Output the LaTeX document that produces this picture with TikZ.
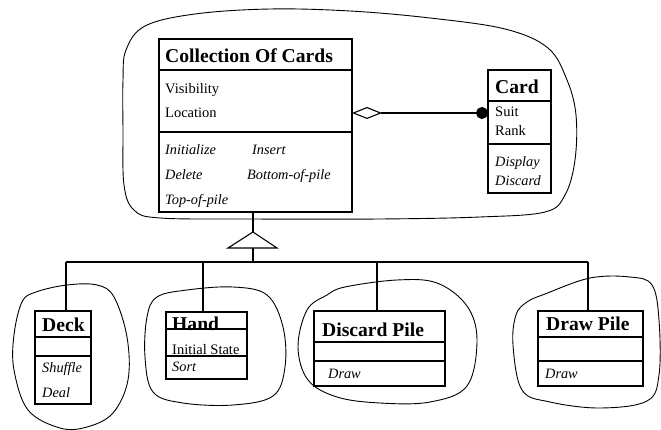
\documentclass[tikz,border=0pt]{standalone}
\usepackage{fontspec}
\setmainfont{Liberation Serif}
\usetikzlibrary{arrows.meta,calc}

\newcommand\classdiv[2]{\draw[classline] ($(#1.north west)+(0,#2)$) -- ($(#1.north east)+(0,#2)$);}

\begin{document}
\begin{tikzpicture}[x=1pt,y=-1pt,
  classbox/.style={draw, line width=1.2pt, inner sep=0pt, outer sep=0pt, anchor=north west},
  classline/.style={line width=1.2pt},
  link/.style={line width=1.1pt},
  blob/.style={line width=0.9pt},
  ctitle/.style={inner sep=0pt, anchor=base west, font=\fontsize{19.6}{19.6}\selectfont\bfseries},
  cattr/.style={inner sep=0pt, anchor=base west, font=\fontsize{14.5}{14.5}\selectfont},
  cop/.style={inner sep=0pt, anchor=base west, font=\fontsize{14.3}{14.3}\selectfont\itshape}]
\useasboundingbox (0,0) rectangle (661,430);

% ---------- class boxes ----------
\node[classbox, minimum width=193, minimum height=173] (coll) at (159,39) {};
\classdiv{coll}{31}
\classdiv{coll}{93}
\node[ctitle] (collT) at (165,63) {Collection Of Cards};
\node[cattr] (collA1) at (165,94) {Visibility};
\node[cattr] (collA2) at (165,118) {Location};
\node[cop] (collO1) at (165,155) {Initialize};
\node[cop] (collO2) at (252,155) {Insert};
\node[cop] (collO3) at (165,180) {Delete};
\node[cop] (collO4) at (247,180) {Bottom-of-pile};
\node[cop] (collO5) at (165,205) {Top-of-pile};

\node[classbox, minimum width=63, minimum height=123] (card) at (488,70) {};
\classdiv{card}{31}
\classdiv{card}{74}
\node[ctitle] (cardT) at (495,94) {Card};
\node[cattr] (cardA1) at (495,117) {Suit};
\node[cattr] (cardA2) at (495,136) {Rank};
\node[cop] (cardO1) at (495,167) {Display};
\node[cop] (cardO2) at (495,186) {Discard};

\node[classbox, minimum width=56, minimum height=93] (deck) at (35,311) {};
\classdiv{deck}{26}
\classdiv{deck}{45}
\node[ctitle] (deckT) at (42,331) {Deck};
\node[cop] (deckO1) at (42,372) {Shuffle};
\node[cop] (deckO2) at (42,397) {Deal};

\node[classbox, minimum width=81, minimum height=67] (hand) at (166,312) {};
\classdiv{hand}{17}
\classdiv{hand}{44}
\node[ctitle] (handT) at (172,330) {Hand};
\node[cattr] (handA1) at (172,354) {Initial State};
\node[cop] (handO1) at (172,371) {Sort};

\node[classbox, minimum width=131, minimum height=75] (disc) at (314,311) {};
\classdiv{disc}{31}
\classdiv{disc}{50}
\node[ctitle] (discT) at (322,336) {Discard Pile};
\node[cop] (discO1) at (328,378) {Draw};

\node[classbox, minimum width=105, minimum height=75] (drawp) at (538,311) {};
\classdiv{drawp}{26}
\classdiv{drawp}{50}
\node[ctitle] (drawpT) at (546,330) {Draw Pile};
\node[cop] (drawpO1) at (545,378) {Draw};

% ---------- aggregation ----------
\coordinate (aggY) at (0,113);
\draw[link, {Diamond[open, length=30pt, width=12pt]}-{Circle[length=12pt]}]
  (coll.east |- aggY) -- (card.west |- aggY);

% ---------- generalisation ----------
\coordinate (apex) at (253,232);
\coordinate (baseL) at (228,248);
\coordinate (baseR) at (277,248);
\coordinate (baseM) at (253,248);
\draw[link] (apex |- coll.south) -- (apex);
\draw[link, fill=white] (apex) -- (baseR) -- (baseL) -- cycle;
\coordinate (b1) at (66,262);
\coordinate (b2) at (203,262);
\coordinate (b3) at (377,262);
\coordinate (b4) at (588,262);
\coordinate (bm) at (253,262);
\draw[link] (baseM) -- (bm);
\draw[link] (b1) -- (b4);
\draw[link] (b1) -- (b1 |- deck.north);
\draw[link] (b2) -- (b2 |- hand.north);
\draw[link] (b3) -- (b3 |- disc.north);
\draw[link] (b4) -- (b4 |- drawp.north);

% ---------- freehand outlines ----------
\draw[blob] plot[smooth cycle, tension=0.6] coordinates {
  (126,50) (145,26) (195,14) (270,9) (350,11) (430,18) (505,29) (548,48)
  (567,80) (576,115) (575,160) (565,195) (545,212) (480,217) (380,219)
  (250,219) (160,218) (134,210) (124,185) (123,130) (123,80)};
\draw[blob] plot[smooth cycle, tension=0.6] coordinates {
  (22,302) (36,292) (67,285) (97,285) (114,297) (127,337) (128,380)
  (113,413) (87,427) (60,428) (28,410) (14,370) (14,335)};
\draw[blob] plot[smooth cycle, tension=0.6] coordinates {
  (157,297) (187,290) (233,287) (267,295) (283,327) (285,367) (273,396)
  (233,405) (183,403) (153,392) (145,357) (147,317)};
\draw[blob] plot[smooth cycle, tension=0.6] coordinates {
  (327,295) (345,287) (397,280) (437,283) (467,306) (477,340) (467,386)
  (430,402) (380,403) (337,397) (308,380) (298,347) (307,310)};
\draw[blob] plot[smooth cycle, tension=0.6] coordinates {
  (527,302) (545,294) (590,278) (630,277) (652,285) (659,320) (659,375)
  (647,401) (600,408) (550,402) (522,390) (513,345) (516,315)};
\end{tikzpicture}
\end{document}
